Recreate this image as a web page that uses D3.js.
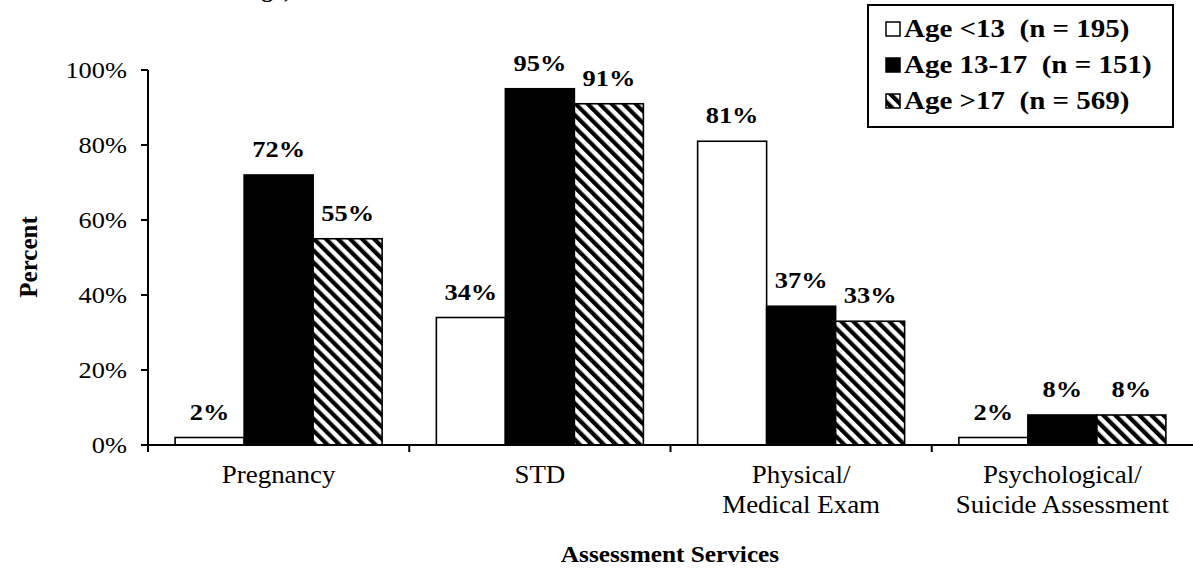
<!DOCTYPE html>
<html><head><meta charset="utf-8">
<script src="https://cdn.jsdelivr.net/npm/d3@7"></script>
<style>html,body{margin:0;padding:0;background:#fff;} svg{display:block;} svg text{font-family:"Liberation Serif", "Times New Roman", Times, serif;}</style>
</head><body>
<script>
const categories = [["Pregnancy"], ["STD"], ["Physical/", "Medical Exam"], ["Psychological/", "Suicide Assessment"]];
const seriesNames = ["Age <13  (n = 195)", "Age 13-17  (n = 151)", "Age >17  (n = 569)"];
const ageUnder13 = [2, 34, 81, 2];
const age13to17 = [72, 95, 37, 8];
const ageOver17 = [55, 91, 33, 8];
const yTicks = [0, 20, 40, 60, 80, 100];

const W = 1193, H = 575;
const SX = 1.1;
const svg = d3.select("body").append("svg").attr("width", W).attr("height", H);

const defs = svg.append("defs");
const pat = defs.append("pattern").attr("id", "hatch").attr("patternUnits", "userSpaceOnUse")
  .attr("width", 8.5).attr("height", 8.5).attr("patternTransform", "rotate(-45)");
pat.append("rect").attr("width", 8.5).attr("height", 8.5).attr("fill", "#fff");
pat.append("rect").attr("width", 4.2).attr("height", 8.5).attr("fill", "#000");

const seriesVals = [ageUnder13, age13to17, ageOver17];
const fills = ["#fff", "#000", "url(#hatch)"];
const keys = categories.map((c, i) => i);

const x = d3.scaleBand().domain(keys).range([148, 1193]).paddingInner(0).paddingOuter(0);
const x1 = d3.scaleBand().domain([0, 1, 2]).range([0, x.bandwidth()]).paddingInner(0).paddingOuter(0.393);
const y = d3.scaleLinear().domain([0, 100]).range([445, 70]);

function stretched(sel, tx, ty, sx) { sel.attr("transform", `translate(${tx},${ty}) scale(${sx || SX},1)`); }

// bars
seriesVals.forEach((vals, s) => {
  svg.append("g").selectAll("rect").data(keys).join("rect")
    .attr("x", k => x(k) + x1(s))
    .attr("y", k => y(vals[k]))
    .attr("width", x1.bandwidth())
    .attr("height", k => y(0) - y(vals[k]))
    .attr("fill", fills[s]).attr("stroke", "#000").attr("stroke-width", 1.6);
  svg.append("g").selectAll("text").data(keys).join("text")
    .attr("text-anchor", "middle").attr("font-weight", "bold").attr("font-size", 24)
    .text(k => vals[k] + "%")
    .each(function(k) { stretched(d3.select(this), x(k) + x1(s) + x1.bandwidth() / 2, y(vals[k]) - 18); });
});

// y axis
const yAxis = svg.append("g");
yAxis.append("line").attr("x1", 148).attr("x2", 148).attr("y1", y(0)).attr("y2", y(100))
  .attr("stroke", "#000").attr("stroke-width", 2);
yAxis.selectAll("line.t").data(yTicks).join("line").attr("class", "t")
  .attr("x1", 141).attr("x2", 148).attr("y1", d => y(d)).attr("y2", d => y(d))
  .attr("stroke", "#000").attr("stroke-width", 2);
yAxis.selectAll("text").data(yTicks).join("text")
  .attr("text-anchor", "end").attr("font-size", 24).text(d => d + "%")
  .each(function(d) { stretched(d3.select(this), 127, y(d) + 8); });

// x axis
const xAxis = svg.append("g");
xAxis.append("line").attr("x1", 148).attr("x2", 1193).attr("y1", y(0)).attr("y2", y(0))
  .attr("stroke", "#000").attr("stroke-width", 2);
xAxis.selectAll("line.t").data(keys).join("line").attr("class", "t")
  .attr("x1", k => x(k)).attr("x2", k => x(k)).attr("y1", y(0)).attr("y2", y(0) + 7)
  .attr("stroke", "#000").attr("stroke-width", 2);
keys.forEach(k => {
  categories[k].forEach((line, li) => {
    const t = xAxis.append("text").attr("text-anchor", "middle").attr("font-size", 24.5).text(line);
    stretched(t, x(k) + x.bandwidth() / 2, 483 + li * 30);
  });
});

// axis titles
const xt = svg.append("text").attr("text-anchor", "middle").attr("font-weight", "bold")
  .attr("font-size", 23).text("Assessment Services");
stretched(xt, 670, 562);
svg.append("text").attr("text-anchor", "middle").attr("font-weight", "bold").attr("font-size", 25)
  .attr("transform", "translate(37,257) rotate(-90)").text("Percent");

// clipped title remnant (cut off at the top edge in the original)
svg.append("text").attr("text-anchor", "end").attr("font-weight", "bold").attr("font-size", 24)
  .attr("x", 292).attr("y", -3).text("Age)");

// legend
const lg = svg.append("g");
lg.append("rect").attr("x", 868).attr("y", 5).attr("width", 305).attr("height", 122)
  .attr("fill", "#fff").attr("stroke", "#000").attr("stroke-width", 2);
const rowBase = [37, 73, 109];
seriesNames.forEach((name, i) => {
  lg.append("rect").attr("x", 886).attr("y", rowBase[i] - 15).attr("width", 14).attr("height", 14)
    .attr("fill", fills[i]).attr("stroke", "#000").attr("stroke-width", 1.5);
  const t = lg.append("text").attr("font-weight", "bold").attr("font-size", 25)
    .attr("xml:space", "preserve").style("white-space", "pre").text(name);
  stretched(t, 904, rowBase[i], 1.16);
});
</script>
</body></html>
